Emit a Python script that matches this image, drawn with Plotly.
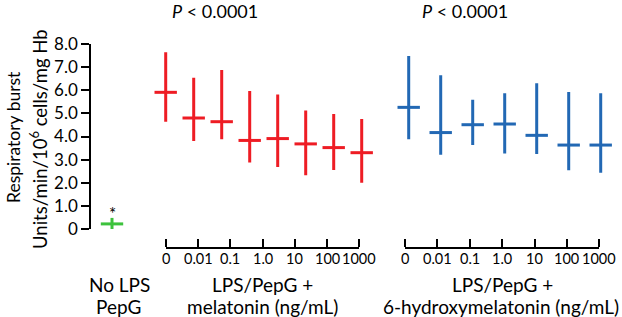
import plotly.graph_objects as go
import numpy as np

# ---- data ----
doses = ["0", "0.01", "0.1", "1.0", "10", "100", "1000"]
y_ticks = [0, 1, 2, 3, 4, 5, 6, 7, 8]
y_ticktext = ["0", "1.0", "2.0", "3.0", "4.0", "5.0", "6.0", "7.0", "8.0"]

green_mean = [0.22]
green_hi = [0.48]
green_lo = [0.0]

red_mean = [5.91, 4.80, 4.64, 3.83, 3.91, 3.68, 3.52, 3.30]
red_hi = [7.64, 6.54, 6.88, 5.97, 5.82, 5.12, 4.97, 4.76]
red_lo = [4.64, 3.81, 3.88, 2.88, 2.68, 2.32, 2.55, 2.00]

blue_mean = [5.26, 4.17, 4.51, 4.54, 4.05, 3.63, 3.63]
blue_hi = [7.48, 6.65, 5.59, 5.87, 6.30, 5.92, 5.87]
blue_lo = [3.88, 3.21, 3.63, 3.27, 3.24, 2.54, 2.43]

# ---- styling ----
W, H = 622, 317
ML, MR, MT, MB = 90, 5, 44, 69
PW, PH = W - ML - MR, H - MT - MB
FONT = "Lato"
FS_Y = 17
FS_DOSE = 14.5
FS_LAB = 19
FS_P = 18
GREEN, RED, BLUE = "#3dc23d", "#ee1c24", "#2268b4"


def fx(px):
    return (px - ML) / PW


def fy(py):
    return (H - MB - py) / PH


def cross_trace(mean, hi, lo, color, xaxis):
    mean = np.array(mean)
    return go.Scatter(
        x=list(range(len(mean))), y=mean, mode="markers", xaxis=xaxis, yaxis="y",
        marker=dict(symbol="line-ew", size=16, line=dict(width=3, color=color)),
        error_y=dict(type="data", symmetric=False,
                     array=np.array(hi) - mean, arrayminus=mean - np.array(lo),
                     width=0, thickness=3, color=color),
        showlegend=False, hoverinfo="skip", cliponaxis=False,
    )


def axis_holder(xaxis):
    # invisible trace so the dose axis is drawn
    return go.Scatter(x=list(range(len(doses))), y=[None] * len(doses), mode="markers",
                      xaxis=xaxis, yaxis="y", showlegend=False, hoverinfo="skip",
                      marker=dict(opacity=0))


fig = go.Figure()
fig.add_trace(axis_holder("x3"))
fig.add_trace(axis_holder("x5"))
fig.add_trace(cross_trace(green_mean, green_hi, green_lo, GREEN, "x"))
fig.add_trace(cross_trace(red_mean, red_hi, red_lo, RED, "x2"))
fig.add_trace(cross_trace(blue_mean, blue_hi, blue_lo, BLUE, "x4"))

hidden = dict(visible=False, showgrid=False, zeroline=False)
tick_axis = dict(
    range=[0, len(doses) - 1], tickvals=list(range(len(doses))), ticktext=doses,
    tickangle=0, showticklabels=False, side="top",
    showline=True, linecolor="black", linewidth=1.5, ticks="outside", ticklen=8,
    tickwidth=1.5, tickcolor="black", showgrid=False, zeroline=False,
    anchor="free", position=0,
)

fig.update_layout(
    width=W, height=H, margin=dict(l=ML, r=MR, t=MT, b=MB, autoexpand=False),
    plot_bgcolor="rgba(0,0,0,0)", paper_bgcolor="white",
    font=dict(family=FONT, size=FS_LAB, color="black"),
    xaxis=dict(domain=[fx(90), fx(134)], range=[-0.5, 0.5], anchor="y", **hidden),
    xaxis2=dict(domain=[fx(151.7), fx(375.7)], range=[-0.5, 7.5], anchor="y", **hidden),
    xaxis3=dict(domain=[fx(166), fx(359.3)], **tick_axis),
    xaxis4=dict(domain=[fx(392.7), fx(616.7)], range=[-0.5, 6.5], anchor="y", **hidden),
    xaxis5=dict(domain=[fx(405), fx(599.3)], **tick_axis),
    yaxis=dict(domain=[fy(229), 1], range=[0, 8], tickvals=y_ticks, ticktext=y_ticktext,
               ticks="outside", ticklen=8, tickwidth=1.5, tickcolor="black",
               showline=True, linecolor="black", linewidth=1.5, showgrid=False,
               zeroline=False, anchor="free", position=0,
               tickfont=dict(family=FONT, size=FS_Y, color="black")),
)


def paper_text(text, px, py, size=FS_LAB, angle=0):
    return dict(x=fx(px), y=fy(py), xref="paper", yref="paper", text=text,
                showarrow=False, xanchor="center", yanchor="middle",
                textangle=angle, font=dict(family=FONT, size=size, color="black"))


ann = [
    dict(x=0, y=green_hi[0], xref="x", yref="y", text="*", showarrow=False,
         yanchor="bottom", yshift=-8, font=dict(family=FONT, size=FS_Y, color="black")),
    paper_text("No LPS", 119, 284),
    paper_text("PepG", 118.5, 306),
    paper_text("LPS/PepG +", 262.5, 284),
    paper_text("melatonin (ng/mL)", 262.5, 306),
    paper_text("LPS/PepG +", 502.5, 284),
    paper_text("6-hydroxymelatonin (ng/mL)", 501, 306),
    paper_text("<i>P</i> < 0.0001", 215, 11, size=FS_P),
    paper_text("<i>P</i> < 0.0001", 464.5, 11, size=FS_P),
    paper_text("Respiratory burst", 13, 137, size=17.5, angle=-90),
    paper_text("Units/min/10<sup>6</sup> cells/mg Hb", 38, 139, size=18.5, angle=-90),
]
# dose labels placed on the dose axes
for xa in ("x3", "x5"):
    for i, d in enumerate(doses):
        ann.append(dict(x=i, y=fy(258.5), xref=xa, yref="paper", text=d,
                        showarrow=False, xanchor="center", yanchor="middle",
                        font=dict(family=FONT, size=FS_DOSE, color="black")))
fig.update_layout(annotations=ann)

fig.write_html("out.html", config={"displayModeBar": False},
               post_script="document.body.style.margin='0';document.body.style.overflow='hidden';")
